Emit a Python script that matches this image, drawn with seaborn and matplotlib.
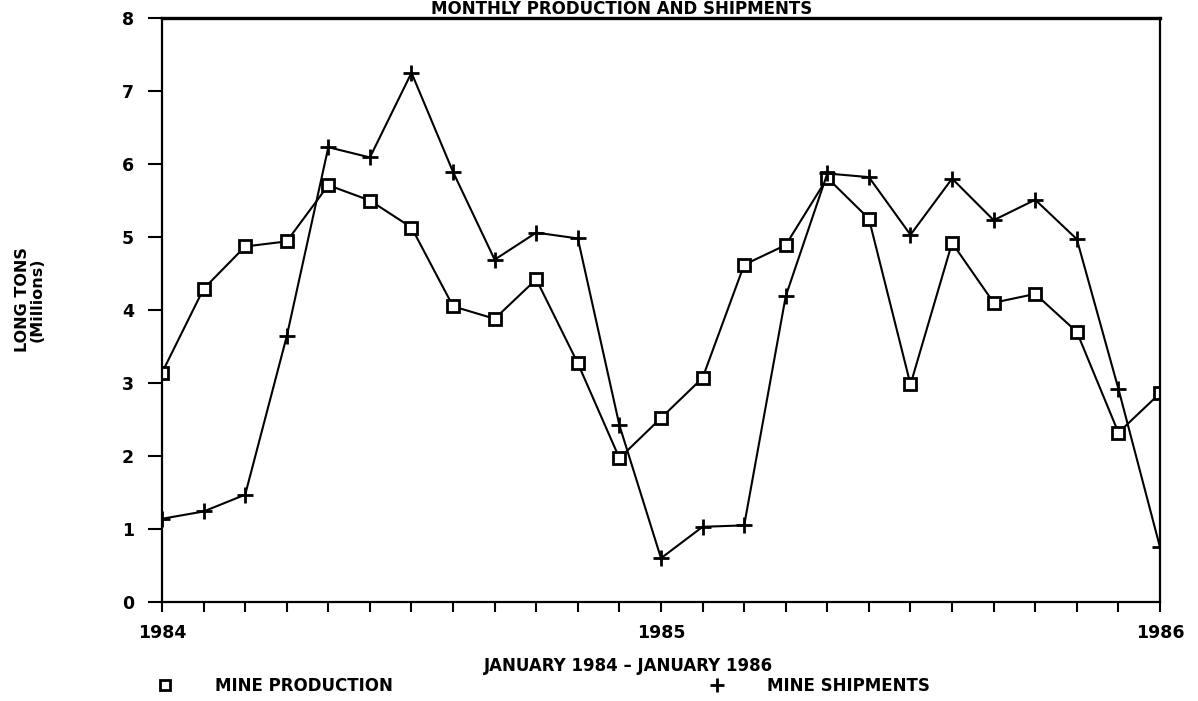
# ==========================================
# MONTHLY PRODUCTION AND SHIPMENTS
# ==========================================

import pandas as pd
import matplotlib
matplotlib.use("Agg")
import matplotlib.pyplot as plt
from matplotlib.lines import Line2D
import seaborn as sns

# ------------------------------------------
# Data (millions of long tons, Jan 1984 - Jan 1986)
# ------------------------------------------
months = list(range(25))

production = [3.14, 4.29, 4.87, 4.94, 5.71, 5.50, 5.13, 4.05, 3.88, 4.42,
              3.27, 1.97, 2.52, 3.07, 4.62, 4.89, 5.81, 5.25, 2.98, 4.92,
              4.10, 4.22, 3.70, 2.32, 2.86]

shipments = [1.14, 1.24, 1.47, 3.64, 6.23, 6.09, 7.25, 5.89, 4.69, 5.06,
             4.98, 2.42, 0.60, 1.03, 1.05, 4.19, 5.87, 5.82, 5.03, 5.80,
             5.23, 5.51, 4.97, 2.92, 0.75]

year_ticks = [0, 12, 24]
year_labels = ["1984", "1985", "1986"]
y_ticks = list(range(9))

series_names = ["MINE PRODUCTION", "MINE SHIPMENTS"]

df = pd.DataFrame({
    "month": months * 2,
    "value": production + shipments,
    "series": [series_names[0]] * 25 + [series_names[1]] * 25
})

# ------------------------------------------
# Style
# ------------------------------------------
sns.set_style("white")
plt.rcParams["font.family"] = ["DejaVu Sans"]
plt.rcParams["font.weight"] = "bold"
plt.rcParams["text.color"] = "black"
plt.rcParams["xtick.color"] = "black"
plt.rcParams["ytick.color"] = "black"
plt.rcParams["axes.labelcolor"] = "black"

fig = plt.figure(figsize=(11.98, 7.01), dpi=100)
ax = fig.add_axes([162 / 1198, 1 - 602 / 701, 998 / 1198, 584 / 701])

# ------------------------------------------
# Lines
# ------------------------------------------
sns.lineplot(
    data=df[df["series"] == series_names[0]],
    x="month", y="value",
    ax=ax, color="black", linewidth=1.5,
    marker="s", markersize=9,
    markerfacecolor="white", markeredgecolor="black", markeredgewidth=2,
    legend=False
)
sns.lineplot(
    data=df[df["series"] == series_names[1]],
    x="month", y="value",
    ax=ax, color="black", linewidth=1.5,
    marker="+", markersize=12,
    markeredgecolor="black", markeredgewidth=2,
    legend=False
)

# ------------------------------------------
# Axes
# ------------------------------------------
ax.set_xlim(0, 24)
ax.set_ylim(0, 8)
ax.set_xticks(year_ticks)
ax.set_xticklabels(year_labels)
ax.set_xticks(months, minor=True)
ax.set_yticks(y_ticks)

for s in ax.spines.values():
    s.set_linewidth(1.6)
    s.set_color("black")
ax.spines["top"].set_linewidth(2.4)

ax.tick_params(axis="y", which="major", direction="out", length=10,
               width=1.5, pad=10, labelsize=12.5, left=True,
               colors="black")
ax.tick_params(axis="x", which="both", direction="out", length=7,
               width=1.5, pad=9, labelsize=12.5, bottom=True,
               colors="black")
for lab in ax.get_xticklabels() + ax.get_yticklabels():
    lab.set_fontweight("heavy")

ax.set_xlabel("JANUARY 1984 – JANUARY 1986", fontsize=12, fontweight="bold",
              color="black")
ax.xaxis.set_label_coords(0.467, -0.095)
ax.set_ylabel("")

fig.text(30 / 1198, 1 - 300 / 701, "LONG TONS\n(Millions)", rotation=90,
         ha="center", va="center", fontsize=11.5, fontweight="bold",
         linespacing=1.0, multialignment="center", color="black")

# title sits right at the top edge, kept fully inside the canvas
fig.text(0.519, 1 - 14 / 701, "MONTHLY PRODUCTION AND SHIPMENTS",
         ha="center", va="baseline", fontsize=12, fontweight="bold",
         color="black")

# ------------------------------------------
# Legend
# ------------------------------------------
handles = [
    Line2D([], [], linestyle="none", marker="s", markersize=7,
           markerfacecolor="white", markeredgecolor="black", markeredgewidth=2),
    Line2D([], [], linestyle="none", marker="+", markersize=10,
           markeredgecolor="black", markeredgewidth=2),
]
fig.legend(handles, series_names, loc="center left",
           bbox_to_anchor=(157 / 1198, 1 - 686 / 701),
           ncol=2, frameon=False, borderpad=0, borderaxespad=0,
           handlelength=1, handletextpad=2.5, columnspacing=18.9,
           prop={"size": 12, "weight": "bold"}, labelcolor="black")

fig.savefig("out.png", dpi=100)
